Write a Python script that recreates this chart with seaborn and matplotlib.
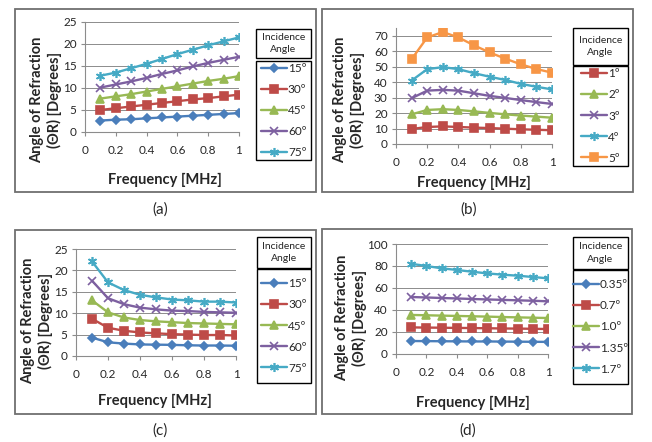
import matplotlib
matplotlib.use("Agg")
import matplotlib.pyplot as plt
from matplotlib.patches import Rectangle
from matplotlib.lines import Line2D
import seaborn as sns
import pandas as pd

sns.set_theme(style="white")
plt.rcParams['font.family'] = ['Lato', 'DejaVu Sans']

freq = [0.1, 0.2, 0.3, 0.4, 0.5, 0.6, 0.7, 0.8, 0.9, 1.0]

# Panel (a)
a_labels = ["15º", "30º", "45º", "60º", "75º"]
a_15 = [2.6, 2.8, 2.9, 3.1, 3.3, 3.5, 3.7, 3.9, 4.1, 4.3]
a_30 = [5.0, 5.4, 5.8, 6.2, 6.6, 7.0, 7.4, 7.7, 8.1, 8.5]
a_45 = [7.6, 8.1, 8.6, 9.2, 9.8, 10.4, 11.0, 11.6, 12.1, 12.7]
a_60 = [10.1, 10.8, 11.5, 12.3, 13.2, 14.0, 14.9, 15.7, 16.4, 17.1]
a_75 = [12.8, 13.5, 14.5, 15.5, 16.6, 17.7, 18.7, 19.7, 20.6, 21.5]

# Panel (b)
b_labels = ["1º", "2º", "3º", "4º", "5º"]
b_1 = [9.7, 11.0, 11.4, 11.0, 10.6, 10.3, 9.9, 9.5, 9.2, 8.9]
b_2 = [19.2, 22.0, 22.5, 22.0, 21.1, 20.1, 19.2, 18.4, 17.7, 17.0]
b_3 = [29.6, 34.5, 35.0, 34.5, 32.8, 31.1, 29.8, 28.4, 27.1, 25.9]
b_4 = [41.0, 48.4, 49.7, 48.4, 45.8, 43.5, 41.4, 38.9, 37.0, 35.3]
b_5 = [54.8, 68.9, 72.4, 68.9, 63.8, 59.2, 55.2, 51.5, 48.5, 46.1]

# Panel (c)
c_labels = ["15º", "30º", "45º", "60º", "75º"]
c_15 = [4.3, 3.2, 2.9, 2.7, 2.65, 2.6, 2.5, 2.45, 2.45, 2.4]
c_30 = [8.7, 6.6, 5.9, 5.5, 5.3, 5.1, 5.0, 4.9, 4.9, 4.8]
c_45 = [13.0, 10.2, 9.0, 8.4, 8.1, 7.9, 7.7, 7.6, 7.5, 7.4]
c_60 = [17.6, 13.5, 12.1, 11.3, 10.9, 10.6, 10.5, 10.3, 10.2, 10.1]
c_75 = [22.1, 17.2, 15.4, 14.3, 13.7, 13.2, 13.0, 12.7, 12.7, 12.5]

# Panel (d)
d_labels = ["0.35º", "0.7º", "1.0º", "1.35º", "1.7º"]
d_035 = [11.8, 11.7, 11.6, 11.5, 11.4, 11.4, 11.3, 11.2, 11.1, 11.0]
d_07 = [24.2, 24.0, 23.9, 23.7, 23.6, 23.4, 23.2, 23.1, 22.9, 22.7]
d_10 = [35.5, 35.2, 34.9, 34.6, 34.3, 34.0, 33.6, 33.3, 33.0, 32.7]
d_135 = [51.8, 51.4, 50.9, 50.5, 50.0, 49.6, 49.2, 48.8, 48.4, 47.9]
d_17 = [82.0, 80.0, 77.9, 76.4, 74.8, 73.3, 72.1, 71.2, 70.0, 68.8]

BLUE, RED, GREEN, PURPLE, CYAN, ORANGE = "#4A7EBB", "#BE4B48", "#98B954", "#7D60A0", "#46AAC5", "#F79646"
STAR = (6, 2, 0)
std_colors = [BLUE, RED, GREEN, PURPLE, CYAN]
std_markers = ["D", "s", "^", "x", STAR]
b_colors = [RED, GREEN, PURPLE, CYAN, ORANGE]
b_markers = ["s", "^", "x", STAR, "s"]

W, H = 652, 442
fig = plt.figure(figsize=(W / 100, H / 100), dpi=100)


def fx(x):
    return x / W


def fy(y):
    return 1 - y / H


def add_axes(l, r, t, b):
    return fig.add_axes([fx(l), fy(b), fx(r - l), (b - t) / H])


MS = {"D": 4.5, "s": 5.5, "^": 5.5, "x": 5.5, STAR: 6.5}

panels = [
    dict(series=[a_15, a_30, a_45, a_60, a_75], labels=a_labels, colors=std_colors, markers=std_markers,
         ax=(85, 239, 22, 132), ylim=(0, 25), yticks=range(0, 26, 5),
         frame=(15, 316, 9, 192), title=(256, 311, 29, 58), entries=(256, 311, 61, 160),
         cap=(160, 210, "(a)"), ylab=(46, 100), xlab=(165, 180)),
    dict(series=[b_1, b_2, b_3, b_4, b_5], labels=b_labels, colors=b_colors, markers=b_markers,
         ax=(396, 552, 28, 144), ylim=(0, 75), yticks=range(0, 71, 10),
         frame=(322, 633, 9, 192), title=(573, 628, 28, 65), entries=(573, 628, 66, 166),
         cap=(469, 210, "(b)"), ylab=(349, 100), xlab=(474, 183)),
    dict(series=[c_15, c_30, c_45, c_60, c_75], labels=c_labels, colors=std_colors, markers=std_markers,
         ax=(76, 236, 249, 356), ylim=(0, 25), yticks=range(0, 26, 5),
         frame=(15, 316, 230, 414), title=(257, 311, 237, 268), entries=(257, 311, 269, 383),
         cap=(160, 431, "(c)"), ylab=(37, 321), xlab=(155, 401)),
    dict(series=[d_035, d_07, d_10, d_135, d_17], labels=d_labels, colors=std_colors, markers=std_markers,
         ax=(396, 548, 244, 354), ylim=(0, 100), yticks=range(0, 101, 20),
         frame=(322, 632, 229, 414), title=(573, 628, 237, 269), entries=(573, 628, 270, 384),
         cap=(468, 431, "(d)"), ylab=(351, 318), xlab=(473, 403)),
]

GRID = "#8c8c8c"
TXT = "#262626"
for p in panels:
    # panel frame
    l, r, t, b = p["frame"]
    fig.patches.append(Rectangle((fx(l), fy(b)), fx(r - l), (b - t) / H, transform=fig.transFigure,
                                 fill=False, edgecolor="#6f6f6f", linewidth=1.3))
    ax = add_axes(*p["ax"])
    for lab, vals, c, m in zip(p["labels"], p["series"], p["colors"], p["markers"]):
        df = pd.DataFrame({"f": freq, "v": vals})
        sns.lineplot(data=df, x="f", y="v", color=c, marker=m, markersize=MS[m], markeredgewidth=1.2,
                     markeredgecolor=c, linewidth=1.7, ax=ax, legend=False)
    ax.set_xlim(0, 1)
    ax.set_ylim(*p["ylim"])
    ax.set_xticks([0, 0.2, 0.4, 0.6, 0.8, 1.0])
    ax.set_xticklabels(["0", "0.2", "0.4", "0.6", "0.8", "1"])
    ax.set_yticks(list(p["yticks"]))
    ax.set_xlabel("")
    ax.set_ylabel("")
    ax.grid(axis="y", color=GRID, linewidth=0.7)
    ax.set_axisbelow(True)
    for s in ["top", "right"]:
        ax.spines[s].set_visible(False)
    for s in ["left", "bottom"]:
        ax.spines[s].set_color(GRID)
        ax.spines[s].set_linewidth(0.8)
    ax.tick_params(axis="both", direction="out", length=3, width=0.8, color=GRID,
                   labelsize=8.5, labelcolor=TXT, pad=3)
    ax.tick_params(axis="x", pad=6)
    ax.tick_params(left=True, bottom=True)
    ax.set_facecolor("none")

    # axis labels
    fig.text(fx(p["ylab"][0]), fy(p["ylab"][1]), "Angle of Refraction\n(ΘR) [Degrees]", rotation=90,
             ha="center", va="center", fontsize=10.5, fontweight="bold", color=TXT, linespacing=1.2)
    fig.text(fx(p["xlab"][0]), fy(p["xlab"][1]), "Frequency [MHz]", ha="center", va="center",
             fontsize=10.5, fontweight="bold", color=TXT)
    fig.text(fx(p["cap"][0]), fy(p["cap"][1]), p["cap"][2], ha="center", va="center", fontsize=11,
             color=TXT)

    # legend title box
    l, r, t, b = p["title"]
    fig.patches.append(Rectangle((fx(l), fy(b)), fx(r - l), (b - t) / H, transform=fig.transFigure,
                                 fill=False, edgecolor="black", linewidth=1.0))
    fig.text(fx((l + r) / 2), fy((t + b) / 2), "Incidence\nAngle", ha="center", va="center",
             fontsize=7.5, color=TXT, linespacing=1.45)
    # legend entries box
    l, r, t, b = p["entries"]
    fig.patches.append(Rectangle((fx(l), fy(b)), fx(r - l), (b - t) / H, transform=fig.transFigure,
                                 fill=False, edgecolor="black", linewidth=1.0))
    handles = [Line2D([], [], color=c, marker=m, markersize=MS[m], markeredgewidth=1.2, linewidth=1.7,
                      markeredgecolor=c) for c, m in zip(p["colors"], p["markers"])]
    leg = fig.legend(handles, p["labels"], loc="center", bbox_to_anchor=(fx((l + r) / 2), fy((t + b) / 2)),
                     bbox_transform=fig.transFigure, frameon=False, fontsize=8.5, handlelength=2.2,
                     handletextpad=0.1, labelspacing=0.85, borderpad=0.2)
    for txt in leg.get_texts():
        txt.set_color(TXT)

fig.savefig("out.png", dpi=100, facecolor="white")
